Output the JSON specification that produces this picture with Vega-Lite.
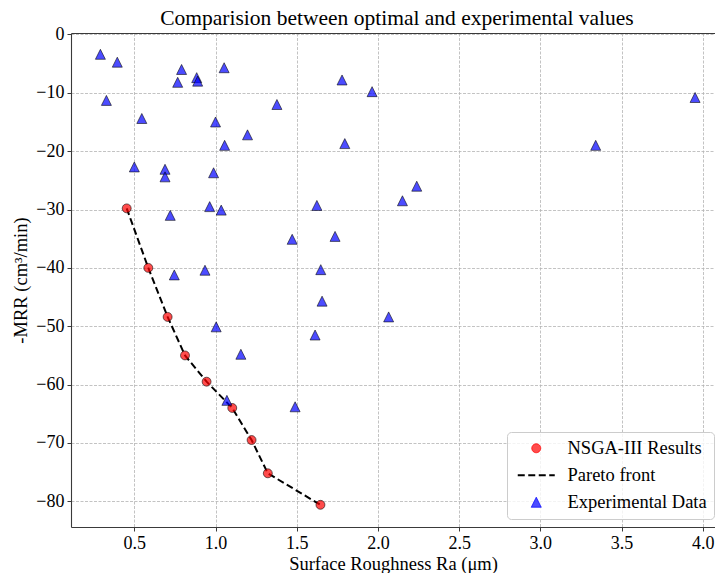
{
  "$schema": "https://vega.github.io/schema/vega-lite/v6.json",
  "width": 644,
  "height": 494,
  "autosize": {"type": "none"},
  "padding": {"left": 71, "top": 33, "right": 0, "bottom": 46},
  "background": "white",
  "title": {
    "text": "Comparision between optimal and experimental values",
    "font": "Liberation Serif",
    "fontSize": 21.5,
    "fontWeight": "normal",
    "color": "black",
    "anchor": "middle",
    "offset": 5,
    "dy": 9,
    "dx": 4
  },
  "config": {
    "view": {"stroke": null},
    "axis": {
      "labelFont": "Liberation Serif",
      "labelFontSize": 18,
      "labelColor": "black",
      "titleFont": "Liberation Serif",
      "titleFontSize": 18.5,
      "titleFontWeight": "normal",
      "titleColor": "black",
      "domainColor": "#3a3a3a",
      "domainWidth": 1.1,
      "tickColor": "#3a3a3a",
      "tickSize": 4,
      "tickWidth": 1,
      "labelPadding": 3,
      "gridColor": "#b4b4b4",
      "gridDash": [3, 1.5],
      "gridWidth": 0.8
    }
  },
  "data": {
    "values": [
      {"set": "optimal", "Ra": 0.453, "MRR": -29.8},
      {"set": "optimal", "Ra": 0.586, "MRR": -40.0},
      {"set": "optimal", "Ra": 0.705, "MRR": -48.4},
      {"set": "optimal", "Ra": 0.812, "MRR": -55.0},
      {"set": "optimal", "Ra": 0.945, "MRR": -59.5},
      {"set": "optimal", "Ra": 1.103, "MRR": -64.0},
      {"set": "optimal", "Ra": 1.222, "MRR": -69.5},
      {"set": "optimal", "Ra": 1.322, "MRR": -75.2},
      {"set": "optimal", "Ra": 1.646, "MRR": -80.6},
      {"set": "experiment", "Ra": 0.291, "MRR": -3.4},
      {"set": "experiment", "Ra": 0.395, "MRR": -4.75},
      {"set": "experiment", "Ra": 0.328, "MRR": -11.3},
      {"set": "experiment", "Ra": 0.791, "MRR": -6.0},
      {"set": "experiment", "Ra": 0.767, "MRR": -8.2},
      {"set": "experiment", "Ra": 0.884, "MRR": -7.4},
      {"set": "experiment", "Ra": 0.89, "MRR": -8.0},
      {"set": "experiment", "Ra": 1.053, "MRR": -5.7},
      {"set": "experiment", "Ra": 1.779, "MRR": -7.8},
      {"set": "experiment", "Ra": 1.964, "MRR": -9.8},
      {"set": "experiment", "Ra": 0.546, "MRR": -14.4},
      {"set": "experiment", "Ra": 1.0, "MRR": -15.0},
      {"set": "experiment", "Ra": 1.378, "MRR": -12.0},
      {"set": "experiment", "Ra": 1.197, "MRR": -17.2},
      {"set": "experiment", "Ra": 1.056, "MRR": -19.0},
      {"set": "experiment", "Ra": 1.796, "MRR": -18.7},
      {"set": "experiment", "Ra": 0.5, "MRR": -22.7},
      {"set": "experiment", "Ra": 0.689, "MRR": -23.1},
      {"set": "experiment", "Ra": 0.689, "MRR": -24.4},
      {"set": "experiment", "Ra": 0.988, "MRR": -23.7},
      {"set": "experiment", "Ra": 0.964, "MRR": -29.5},
      {"set": "experiment", "Ra": 1.035, "MRR": -30.1},
      {"set": "experiment", "Ra": 1.624, "MRR": -29.3},
      {"set": "experiment", "Ra": 0.721, "MRR": -31.0},
      {"set": "experiment", "Ra": 1.472, "MRR": -35.1},
      {"set": "experiment", "Ra": 1.736, "MRR": -34.6},
      {"set": "experiment", "Ra": 0.746, "MRR": -41.2},
      {"set": "experiment", "Ra": 0.935, "MRR": -40.4},
      {"set": "experiment", "Ra": 1.648, "MRR": -40.3},
      {"set": "experiment", "Ra": 3.953, "MRR": -10.8},
      {"set": "experiment", "Ra": 3.341, "MRR": -19.0},
      {"set": "experiment", "Ra": 2.239, "MRR": -26.0},
      {"set": "experiment", "Ra": 2.151, "MRR": -28.5},
      {"set": "experiment", "Ra": 2.066, "MRR": -48.4},
      {"set": "experiment", "Ra": 1.656, "MRR": -45.7},
      {"set": "experiment", "Ra": 1.004, "MRR": -50.1},
      {"set": "experiment", "Ra": 1.613, "MRR": -51.5},
      {"set": "experiment", "Ra": 1.156, "MRR": -54.8},
      {"set": "experiment", "Ra": 1.07, "MRR": -62.7},
      {"set": "experiment", "Ra": 1.49, "MRR": -63.8}
    ]
  },
  "resolve": {"axis": {"x": "independent"}},
  "layer": [
    {
      "transform": [{"filter": "datum.set === 'optimal'"}],
      "mark": {"type": "line", "strokeDash": [7, 3.5], "strokeWidth": 2},
      "encoding": {
        "x": {
          "field": "Ra",
          "type": "quantitative",
          "scale": {"domain": [0.11, 4.0756], "nice": false, "zero": false},
          "axis": {
            "title": "Surface Roughness Ra (μm)",
            "values": [0.5, 1.0, 1.5, 2.0, 2.5, 3.0, 3.5, 4.0],
            "format": ".1f",
            "labelFont": "Liberation Serif",
            "labelFontSize": 18,
            "titleFont": "Liberation Serif",
            "titlePadding": 2
          }
        },
        "y": {
          "field": "MRR",
          "type": "quantitative",
          "scale": {"domain": [-84.4, 0.25], "nice": false, "zero": false},
          "axis": {
            "title": "-MRR (cm³/min)",
            "values": [-80, -70, -60, -50, -40, -30, -20, -10, 0],
            "format": "d",
            "labelExpr": "replace(datum.label, '-', '−')",
            "labelFont": "Liberation Serif",
            "labelFontSize": 18,
            "titleFont": "Liberation Serif",
            "titlePadding": 5
          }
        },
        "color": {
          "datum": "Pareto front",
          "scale": {
            "domain": ["NSGA-III Results", "Pareto front", "Experimental Data"],
            "range": ["red", "black", "blue"]
          },
          "legend": {
            "title": null,
            "orient": "none",
            "legendX": 436,
            "legendY": 399,
            "direction": "vertical",
            "labelFont": "Liberation Serif",
            "labelFontSize": 18.5,
            "labelColor": "black",
            "padding": 7,
            "rowPadding": 8,
            "symbolOffset": 13,
            "labelOffset": 22,
            "symbolSize": 100,
            "strokeColor": "#cccccc",
            "fillColor": "rgba(255,255,255,0.8)",
            "cornerRadius": 4,
            "encode": {
              "symbols": {
                "update": {
                  "shape": {"signal": "datum.value === 'Pareto front' ? 'M-3.7,0H3.7' : datum.value === 'NSGA-III Results' ? 'circle' : 'M0,-1L1,1L-1,1Z'"},
                  "size": {"signal": "datum.value === 'NSGA-III Results' ? 80 : 100"},
                  "fill": {"signal": "datum.value === 'Pareto front' ? 'transparent' : datum.value === 'NSGA-III Results' ? 'red' : 'blue'"},
                  "fillOpacity": {"value": 0.7},
                  "stroke": {"signal": "datum.value === 'Pareto front' ? 'black' : 'rgba(0,0,0,0.7)'"},
                  "strokeWidth": {"signal": "datum.value === 'Pareto front' ? 2 : 0.8"},
                  "strokeDash": {"signal": "datum.value === 'Pareto front' ? [7, 3.5] : [1, 0]"},
                  "opacity": {"value": 1}
                }
              }
            }
          }
        }
      }
    },
    {
      "transform": [{"filter": "datum.set === 'optimal'"}],
      "mark": {
        "type": "point",
        "shape": "circle",
        "filled": true,
        "size": 80,
        "fillOpacity": 0.7,
        "stroke": "black",
        "strokeOpacity": 0.7,
        "strokeWidth": 0.8
      },
      "encoding": {
        "x": {"field": "Ra", "type": "quantitative", "axis": null},
        "y": {"field": "MRR", "type": "quantitative"},
        "color": {"datum": "NSGA-III Results"}
      }
    },
    {
      "transform": [{"filter": "datum.set === 'experiment'"}],
      "mark": {
        "type": "point",
        "shape": "M0,-1L1,1L-1,1Z",
        "filled": true,
        "size": 100,
        "fillOpacity": 0.7,
        "stroke": "black",
        "strokeOpacity": 0.7,
        "strokeWidth": 0.8
      },
      "encoding": {
        "x": {"field": "Ra", "type": "quantitative", "axis": null},
        "y": {"field": "MRR", "type": "quantitative"},
        "color": {"datum": "Experimental Data"}
      }
    },
    {
      "transform": [{"filter": "datum.set === 'optimal'"}],
      "mark": {"type": "point", "opacity": 0},
      "encoding": {
        "x": {
          "field": "Ra",
          "type": "quantitative",
          "axis": {"orient": "top", "labels": false, "ticks": false, "grid": false, "title": null, "domain": true}
        },
        "y": {"field": "MRR", "type": "quantitative"}
      }
    }
  ]
}
